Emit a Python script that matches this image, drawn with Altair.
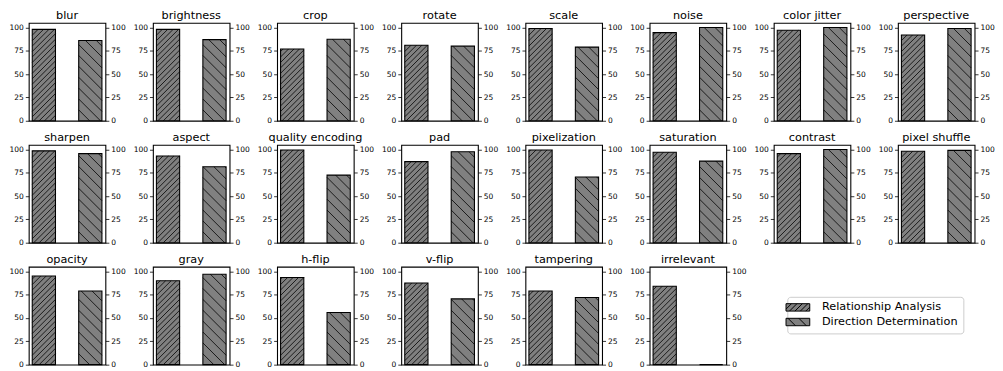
import altair as alt
import pandas as pd

# ---------------- data ----------------
categories = ["blur", "brightness", "crop", "rotate", "scale", "noise", "color jitter", "perspective",
              "sharpen", "aspect", "quality encoding", "pad", "pixelization", "saturation", "contrast", "pixel shuffle",
              "opacity", "gray", "h-flip", "v-flip", "tampering", "irrelevant"]
relationship = [98, 98, 77, 81, 99, 94.5, 97, 92,
                98.5, 93, 99.5, 87, 99.5, 97, 95.5, 98,
                95, 90, 93.5, 87.5, 79, 84]
direction = [86, 87, 87.5, 80, 79, 100, 100, 99,
             95.5, 81.5, 72.5, 97.5, 70.5, 87.5, 100, 99,
             79, 97, 56, 70.5, 72, 0]
series_names = ["Relationship Analysis", "Direction Determination"]
y_ticks = [0, 25, 50, 75, 100]

rows = []
for i, c in enumerate(categories):
    rows.append({"cat": c, "series": series_names[0], "pos": 0, "value": relationship[i]})
    rows.append({"cat": c, "series": series_names[1], "pos": 1, "value": direction[i]})
df = pd.DataFrame(rows)
legend_df = pd.DataFrame({"series": series_names})

# ---------------- geometry / style ----------------
W, H = 77.5, 99
X_DOM = [-0.325, 1.325]
Y_DOM = [0, 105]
HALF = 0.25
SX = W / (X_DOM[1] - X_DOM[0])
SY = H / (Y_DOM[1] - Y_DOM[0])
DYD = 2 * HALF * SX / SY          # rise (data units) of a 45deg line across a bar
SP_RA = 5.5 / SY                  # hatch spacing '//'
SP_DD = 11.0 / SY                 # hatch spacing '\'
GREY = "#808080"

xscale = alt.Scale(domain=X_DOM, nice=False, zero=False)
yscale = alt.Scale(domain=Y_DOM, nice=False, zero=False)


def yaxis(orient):
    return alt.Axis(values=y_ticks, orient=orient, title=None, grid=False, domain=False,
                    tickColor="black", tickSize=3.5, tickWidth=0.8, labelFontSize=7.6,
                    labelColor="black", labelPadding=2, labelFont="DejaVu Sans")


# legend swatch: symbol unit r = sqrt(SYM_SIZE)/2 px
SYM_SIZE = 64
R = SYM_SIZE ** 0.5 / 2


def hatch_path(step_px, forward, w_px=24, h_px=7.5):
    hw = w_px / 2 / R
    hh = h_px / 2 / R
    step = step_px / R
    parts = [f"M{-hw:.3f},{-hh:.3f}H{hw:.3f}V{hh:.3f}H{-hw:.3f}Z"]
    h = 2 * hh
    a = -hw - h
    while a < hw:
        xs, ys = a, hh
        xe, ye = a + h, -hh
        if xs < -hw:
            ys = hh - (-hw - xs)
            xs = -hw
        if xe > hw:
            ye = -hh + (xe - hw)
            xe = hw
        if xe > xs:
            if not forward:
                xs, xe = -xs, -xe
            parts.append(f"M{xs:.3f},{ys:.3f}L{xe:.3f},{ye:.3f}")
        a += step
    return "".join(parts)


PATH_RA = hatch_path(5.5, True)
PATH_DD = hatch_path(11.0, False)

LEGEND = alt.Legend(orient="none", legendX=767, legendY=277, title=None,
                    symbolSize=SYM_SIZE, symbolStrokeWidth=1, symbolOpacity=1,
                    labelFontSize=11.4, labelColor="black",
                    labelFont="DejaVu Sans", labelOffset=18.6,
                    rowPadding=1.8, padding=5,
                    strokeColor="#cccccc", fillColor="white", cornerRadius=3)


def panel(cat, with_legend=False):
    base = alt.Chart(df).transform_filter(alt.datum.cat == cat)
    bars = base.transform_calculate(
        x0=f"datum.pos - {HALF}", x1=f"datum.pos + {HALF}"
    ).mark_rect(fill=GREY, stroke="black", strokeWidth=1.1).encode(
        x=alt.X("x0:Q", scale=xscale, axis=None),
        x2="x1:Q",
        y=alt.Y("value:Q", scale=yscale, axis=yaxis("left")),
        y2=alt.datum(0),
    )
    hatch = base.transform_calculate(k="sequence(0, 40)").transform_flatten(["k"]).transform_calculate(
        sp=f"datum.pos == 0 ? {SP_RA} : {SP_DD}"
    ).transform_calculate(
        y0=f"-{DYD} + datum.k * datum.sp"
    ).transform_calculate(
        ys="max(datum.y0, 0)", ye=f"min(datum.y0 + {DYD}, datum.value)"
    ).transform_filter("datum.ye > datum.ys").transform_calculate(
        ts=f"(datum.ys - datum.y0) / {DYD}", te=f"(datum.ye - datum.y0) / {DYD}"
    ).transform_calculate(
        xs=f"datum.pos == 0 ? datum.pos - {HALF} + datum.ts * {2 * HALF} : datum.pos + {HALF} - datum.ts * {2 * HALF}",
        xe=f"datum.pos == 0 ? datum.pos - {HALF} + datum.te * {2 * HALF} : datum.pos + {HALF} - datum.te * {2 * HALF}",
    ).mark_rule(color="black", strokeWidth=0.8).encode(
        x=alt.X("xs:Q", scale=xscale, axis=None),
        x2="xe:Q",
        y=alt.Y("ys:Q", scale=yscale, axis=yaxis("right")),
        y2="ye:Q",
    )
    layers = [bars, hatch]
    if with_legend:
        leg = alt.Chart(legend_df).transform_filter("false").mark_point(
            filled=True, strokeWidth=1, opacity=1
        ).encode(
            shape=alt.Shape("series:N",
                            scale=alt.Scale(domain=series_names, range=[PATH_RA, PATH_DD]),
                            legend=LEGEND),
            fill=alt.Fill("series:N",
                          scale=alt.Scale(domain=series_names, range=[GREY, GREY]),
                          legend=LEGEND),
            stroke=alt.Stroke("series:N",
                              scale=alt.Scale(domain=series_names, range=["black", "black"]),
                              legend=LEGEND),
        )
        layers.append(leg)
    return alt.layer(*layers).resolve_scale(y="independent").properties(
        width=W, height=H, title=alt.Title(cat)
    )


panels = [panel(c, with_legend=(i == len(categories) - 1)) for i, c in enumerate(categories)]

chart = alt.concat(*panels, columns=8, spacing={"row": 6.3, "column": 5.55}).properties(
    padding={"left": 0, "top": 0, "right": 0, "bottom": 0}
).configure(font="DejaVu Sans").configure_view(
    stroke="black", strokeWidth=1.1
).configure_title(
    fontSize=11.4, fontWeight="normal", color="black", offset=1, font="DejaVu Sans"
)

chart.save("out.html", embed_options={"renderer": "svg", "actions": False})
